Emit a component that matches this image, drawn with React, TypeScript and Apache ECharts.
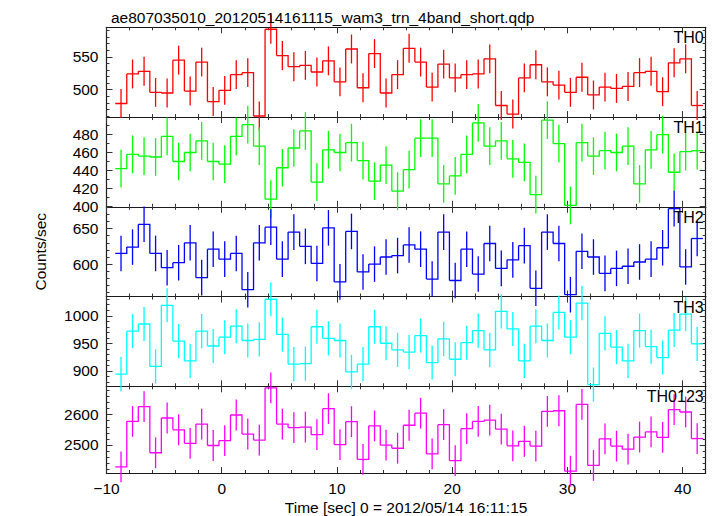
import React, { useEffect, useRef } from 'react';
import * as echarts from 'echarts';

const TITLE = 'ae807035010_20120514161115_wam3_trn_4band_short.qdp';
const X_TITLE = 'Time [sec] 0 = 2012/05/14 16:11:15';
const Y_TITLE = 'Counts/sec';

// time grid: bin centres start at T_START, one bin per second
const T_START = -8.74;
const BIN = 1;
const X_MIN = -10;
const X_MAX = 42;
const xMajor = [-10, 0, 10, 20, 30, 40];
const xMinor = [-8, -6, -4, -2, 2, 4, 6, 8, 12, 14, 16, 18, 22, 24, 26, 28, 32, 34, 36, 38];

const panelNames = ['TH0', 'TH1', 'TH2', 'TH3', 'TH0123'];
const panelColors = ['#ff0000', '#00ff00', '#0000ff', '#00ffff', '#ff00ff'];

const th0 = [479, 524, 528, 496, 495, 545, 498, 542, 482, 499, 523, 526, 460, 592, 552, 535, 537, 527, 544, 512, 562, 503, 555, 495, 523, 563, 542, 504, 539, 518, 523, 524, 547, 476, 463, 518, 538, 512, 507, 496, 519, 492, 504, 502, 505, 526, 528, 497, 541, 547, 476];
const th1 = [442, 458, 456, 455, 478, 450, 460, 473, 450, 447, 478, 491, 467, 408, 443, 465, 484, 427, 463, 460, 471, 451, 428, 446, 417, 441, 476, 476, 425, 434, 458, 493, 467, 473, 453, 449, 413, 496, 470, 401, 471, 456, 462, 460, 467, 425, 463, 480, 438, 461, 462];
const th2 = [615, 624, 656, 615, 595, 602, 630, 581, 621, 607, 615, 564, 630, 652, 607, 645, 625, 601, 651, 575, 646, 589, 600, 610, 612, 627, 621, 579, 645, 577, 621, 586, 629, 594, 606, 626, 566, 645, 629, 557, 618, 610, 587, 594, 597, 603, 607, 623, 678, 596, 636];
const th3 = [894, 972, 985, 908, 1019, 954, 918, 972, 945, 961, 981, 955, 957, 1030, 966, 912, 913, 980, 959, 955, 898, 912, 980, 950, 938, 934, 964, 915, 958, 921, 951, 973, 938, 1008, 976, 918, 981, 955, 1006, 961, 1023, 875, 968, 943, 918, 973, 944, 924, 974, 1003, 949];
const th0123 = [2427, 2578, 2627, 2474, 2589, 2550, 2505, 2569, 2498, 2514, 2599, 2536, 2516, 2689, 2569, 2557, 2559, 2534, 2620, 2501, 2577, 2452, 2563, 2499, 2489, 2565, 2605, 2470, 2567, 2448, 2554, 2578, 2582, 2552, 2497, 2512, 2496, 2611, 2613, 2413, 2634, 2432, 2520, 2496, 2486, 2526, 2543, 2525, 2617, 2609, 2521];

// 1-sigma error half-length per panel
const panelErrors = [22, 21, 25, 31, 51];

const yMin = [458.4, 399.5, 554.4, 871.8, 2407];
const yMax = [595, 499.5, 680.6, 1034.9, 2694];
const th0Ticks = [500, 550];
const th1Ticks = [400, 420, 440, 460, 480];
const th2Ticks = [600, 650];
const th3Ticks = [900, 950, 1000];
const th0123Ticks = [2500, 2600];
const th0Minor = [460, 470, 480, 490, 510, 520, 530, 540, 560, 570, 580, 590];
const th1Minor = [410, 430, 450, 470, 490];
const th2Minor = [560, 570, 580, 590, 610, 620, 630, 640, 660, 670, 680];
const th3Minor = [880, 890, 910, 920, 930, 940, 960, 970, 980, 990, 1010, 1020, 1030];
const th0123Minor = [2420, 2440, 2460, 2480, 2520, 2540, 2560, 2580, 2620, 2640, 2660, 2680];

const panelValues = [th0, th1, th2, th3, th0123];
const yMajorTicks = [th0Ticks, th1Ticks, th2Ticks, th3Ticks, th0123Ticks];
const yMinorTicks = [th0Minor, th1Minor, th2Minor, th3Minor, th0123Minor];

const FONT = "'Liberation Sans', Arial, Helvetica, sans-serif";
const GRID_LEFT = 106.5;
const GRID_RIGHT = 11.3;
const GRID_TOP = 27.3;
const PANEL_H = 89.75;
const FRAME = '#1a1a1a';
const TICK = '#333';

export default function App() {
  const ref = useRef<HTMLDivElement>(null);
  useEffect(() => {
    if (!ref.current) return;
    const chart = echarts.init(ref.current, null, { renderer: 'svg' });
    const times = th0.map((_, i) => T_START + i * BIN);

    const grids = panelNames.map((_, k) => ({
      left: GRID_LEFT,
      right: GRID_RIGHT,
      top: GRID_TOP + k * PANEL_H,
      height: PANEL_H,
      containLabel: false,
    }));

    const xAxes: any[] = [];
    const yAxes: any[] = [];
    const n = panelNames.length;
    panelNames.forEach((_, k) => {
      const isLast = k === n - 1;
      ['bottom', 'top'].forEach((pos) => {
        const showLab = isLast && pos === 'bottom';
        xAxes.push({
          type: 'value', gridIndex: k, position: pos, min: X_MIN, max: X_MAX,
          axisLine: { show: true, onZero: false, lineStyle: { color: FRAME, width: 1.2 } },
          splitLine: { show: false },
          axisTick: { show: true, inside: true, length: 6, customValues: xMajor, lineStyle: { color: TICK, width: 1 } },
          axisLabel: {
            show: showLab, customValues: xMajor, margin: 7, fontSize: 15.5, color: '#000', fontFamily: FONT,
            formatter: (v: number) => String(v).replace('-', '\u2212'),
          },
          name: showLab ? X_TITLE : '',
          nameLocation: 'middle', nameGap: 26,
          nameTextStyle: { fontSize: 15.5, color: '#000', fontFamily: FONT },
        });
        xAxes.push({
          type: 'value', gridIndex: k, position: pos, min: X_MIN, max: X_MAX,
          axisLine: { show: false, onZero: false },
          splitLine: { show: false },
          axisTick: { show: true, inside: true, length: 3, customValues: xMinor, lineStyle: { color: TICK, width: 1 } },
          axisLabel: { show: false },
        });
      });
      ['left', 'right'].forEach((pos) => {
        yAxes.push({
          type: 'value', gridIndex: k, position: pos, min: yMin[k], max: yMax[k],
          axisLine: { show: true, onZero: false, lineStyle: { color: FRAME, width: 1.2 } },
          splitLine: { show: false },
          axisTick: { show: true, inside: true, length: 6, customValues: yMajorTicks[k], lineStyle: { color: TICK, width: 1 } },
          axisLabel: {
            show: pos === 'left', customValues: yMajorTicks[k], margin: 8, fontSize: 15.5, color: '#000', fontFamily: FONT,
            formatter: (v: number) => String(v),
          },
        });
        yAxes.push({
          type: 'value', gridIndex: k, position: pos, min: yMin[k], max: yMax[k],
          axisLine: { show: false, onZero: false },
          splitLine: { show: false },
          axisTick: { show: true, inside: true, length: 3, customValues: yMinorTicks[k], lineStyle: { color: TICK, width: 1 } },
          axisLabel: { show: false },
        });
      });
    });

    const series = panelValues.map((vals, k) => {
      const color = panelColors[k];
      const err = panelErrors[k];
      return {
        type: 'custom',
        xAxisIndex: 4 * k,
        yAxisIndex: 4 * k,
        clip: false,
        silent: true,
        encode: { x: 0, y: 1 },
        data: vals.map((v, i) => [times[i], v, i + 1 < vals.length ? vals[i + 1] : v, err]),
        renderItem: (_p: any, api: any) => {
          const t = api.value(0);
          const v = api.value(1);
          const vn = api.value(2);
          const e = api.value(3);
          const a = api.coord([t - BIN / 2, v]);
          const b = api.coord([t + BIN / 2, v]);
          const c = api.coord([t + BIN / 2, vn]);
          const lo = api.coord([t, v - e]);
          const hi = api.coord([t, v + e]);
          const style = { stroke: color, lineWidth: 1.3, fill: null };
          return {
            type: 'group',
            children: [
              { type: 'polyline', shape: { points: [a, b, c] }, style },
              { type: 'line', shape: { x1: lo[0], y1: lo[1], x2: hi[0], y2: hi[1] }, style },
            ],
          };
        },
      };
    });

    const graphics: any[] = panelNames.map((name, k) => ({
      type: 'text',
      x: 717 - GRID_RIGHT - 2,
      y: GRID_TOP + k * PANEL_H + 10.5,
      style: { text: name, align: 'right', verticalAlign: 'middle', fill: '#000', font: `16px ${FONT}` },
      z: 10,
    }));
    graphics.push({
      type: 'text',
      x: 40,
      y: GRID_TOP + (n * PANEL_H) / 2,
      rotation: Math.PI / 2,
      style: { text: Y_TITLE, align: 'center', verticalAlign: 'middle', fill: '#000', font: `15.5px ${FONT}` },
    });

    chart.setOption({
      animation: false,
      backgroundColor: '#fff',
      title: {
        text: TITLE, left: 106, top: 4,
        textStyle: { fontSize: 15.5, fontWeight: 'normal', color: '#000', fontFamily: FONT },
      },
      grid: grids,
      xAxis: xAxes,
      yAxis: yAxes,
      series,
      graphic: graphics,
    });
    return () => chart.dispose();
  }, []);
  return <div ref={ref} style={{ position: 'fixed', left: 0, top: 0, width: 717, height: 516 }} />;
}
